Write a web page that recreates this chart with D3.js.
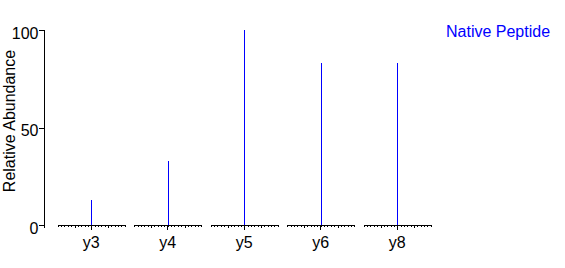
<!DOCTYPE HTML>
<html>
  <head>
    <style>
      body { margin: 0; background: #fff; }
      svg text { font-family: "Liberation Sans", Arial, sans-serif; font-size: 16px; }
    </style>
    <script type="text/javascript" src="https://cdnjs.cloudflare.com/ajax/libs/d3/7.8.5/d3.min.js"></script>
  </head>
  <body>
    <div id="graph-holder"></div>
    <script type="text/javascript">
      // data
      const ions = ["y3", "y4", "y5", "y6", "y8"];
      const abundance = [13, 33, 100, 83, 83];
      const yTicks = [0, 50, 100];
      const seriesName = "Native Peptide";

      const width = 565;
      const height = 268;
      const blue = "#0000ff";
      const font = '"Liberation Sans", Arial, sans-serif';

      var svg = d3.select("#graph-holder")
        .append("svg")
        .attr("width", width)
        .attr("height", height)
        .attr("shape-rendering", "crispEdges");

      var xScale = d3.scaleBand()
        .domain(ions)
        .range([53, 435.5]);
      var yScale = d3.scaleLinear()
        .domain([0, 100])
        .range([225, 30]);

      // Y axis
      var yAxis = d3.axisLeft(yScale)
        .tickValues(yTicks)
        .tickSize(6)
        .tickSizeOuter(0)
        .tickPadding(0);
      var gy = svg.append("g")
        .attr("transform", "translate(44.5,0)")
        .call(yAxis);
      gy.selectAll("text").attr("dy", "0.5em");
      gy.select(".domain").attr("d", "M0," + yScale(100) + "V" + (yScale(0) + 3));

      svg.append("text")
        .attr("transform", "translate(15," + 121 + ") rotate(-90)")
        .attr("text-anchor", "middle")
        .attr("fill", "#000")
        .text("Relative Abundance");

      // one small baseline per ion, with minor ticks
      ions.forEach(function(ion) {
        var c = xScale(ion) + xScale.bandwidth() / 2;
        var local = d3.scaleLinear().domain([-10, 10]).range([c - 33.5, c + 33.5]);
        var g = svg.append("g").attr("transform", "translate(0," + (yScale(0) - 0.5) + ")");
        g.call(d3.axisBottom(local)
          .tickValues(d3.range(-10, 11))
          .tickSize(2)
          .tickSizeOuter(0)
          .tickFormat(""));
        g.append("g").call(d3.axisBottom(local)
          .tickValues([-5, 5])
          .tickSize(3)
          .tickFormat(""))
          .select(".domain").remove();
      });

      // main ion ticks and labels
      var xAxis = d3.axisBottom(xScale)
        .tickSize(5)
        .tickSizeOuter(0)
        .tickPadding(7);
      var gx = svg.append("g")
        .attr("transform", "translate(0," + (yScale(0) - 0.5) + ")")
        .call(xAxis);
      gx.select(".domain").remove();
      gx.selectAll("text").attr("fill", "#000");

      // sticks
      svg.selectAll(".stick")
        .data(abundance)
        .enter()
        .append("line")
        .attr("class", "stick")
        .attr("x1", (d, i) => Math.round(xScale(ions[i]) + xScale.bandwidth() / 2) + 0.5)
        .attr("x2", (d, i) => Math.round(xScale(ions[i]) + xScale.bandwidth() / 2) + 0.5)
        .attr("y1", yScale(0) - 0.5)
        .attr("y2", d => yScale(d))
        .attr("stroke", blue)
        .attr("stroke-width", 1);

      // legend
      svg.append("text")
        .attr("x", 446)
        .attr("y", 37)
        .attr("fill", blue)
        .text(seriesName);

      svg.selectAll(".tick text").style("font-size", "16px")
        .style("font-family", font);
    </script>
  </body>
</html>
